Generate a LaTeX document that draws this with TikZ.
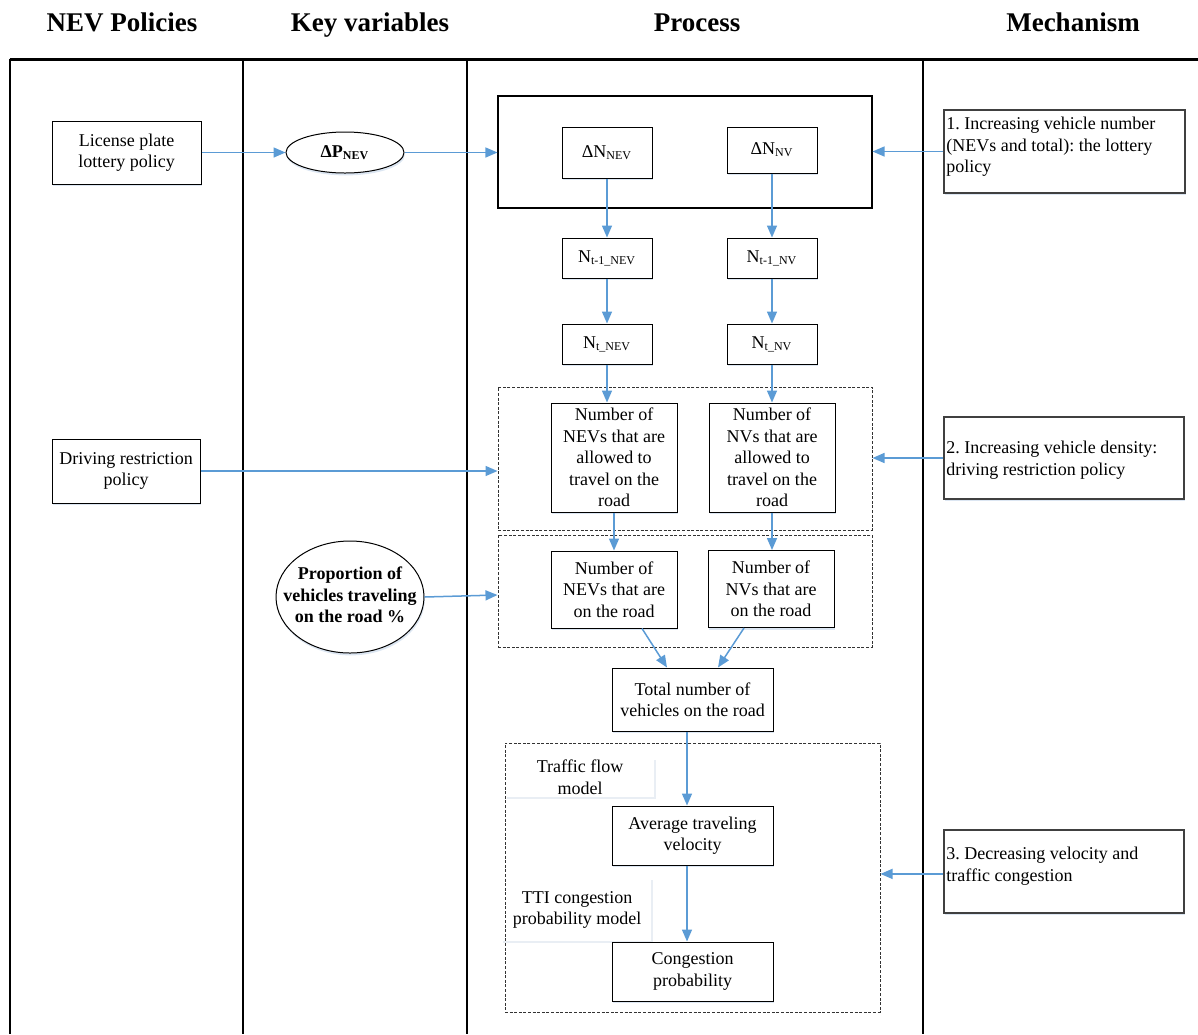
\documentclass[tikz,border=0pt]{standalone}
\usepackage{fontspec}
\setmainfont{Liberation Serif}
\usetikzlibrary{arrows.meta,shapes.geometric,shadows}
\newcommand\myfs{\fontsize{9}{10.75}\selectfont\frenchspacing}
\definecolor{arrowblue}{HTML}{5B9BD5}
\definecolor{shadowblue}{HTML}{DCE6F2}
\definecolor{faint}{HTML}{E9EEF4}
\tikzset{
  hdr/.style={font=\fontsize{13.5}{16}\selectfont\bfseries, inner sep=0pt, anchor=base},
  box/.style={draw=black, line width=0.5pt, fill=white, align=center, inner sep=1pt, font=\myfs,
    drop shadow={shadow xshift=0.4pt, shadow yshift=-1.2pt, fill=shadowblue, opacity=1}},
  oval/.style={ellipse, draw=black, line width=0.5pt, fill=white, align=center, inner sep=0pt, font=\myfs\bfseries,
    drop shadow={shadow xshift=0.4pt, shadow yshift=-1.2pt, fill=shadowblue, opacity=1}},
  frame/.style={draw=black, line width=0.55pt, inner sep=0pt},
  dframe/.style={draw=black!80, line width=0.5pt, dash pattern=on 1.5pt off 0.8pt, inner sep=0pt},
  mech/.style={draw=black!75, line width=0.6pt, fill=white, inner sep=0pt,
    drop shadow={shadow xshift=0.4pt, shadow yshift=-1.2pt, fill=shadowblue, opacity=1}},
  mtext/.style={font=\myfs, align=left, inner sep=0pt, anchor=north west},
  lbl/.style={font=\myfs, align=center, inner sep=0pt},
  arr/.style={draw=arrowblue, line width=0.75pt, -{Triangle[length=6pt,width=5pt]}},
}
\begin{document}
\begin{tikzpicture}[x=0.5pt,y=-0.5pt]
\useasboundingbox (0,0) rectangle (1198,1034);

% headers
\node[hdr] (h1) at (122,31) {NEV Policies};
\node[hdr] (h2) at (370,31) {Key variables};
\node[hdr] (h3) at (697,31) {Process};
\node[hdr] (h4) at (1073,31) {Mechanism};

% table lines
\draw[line width=1.5pt] (9.5,59) -- (1198,59);
\draw[line width=1pt] (10,59) -- (10,1034);
\foreach \x in {243,467,923} \draw[line width=0.75pt] (\x,59) -- (\x,1034);

% containers
\node[frame, minimum width=187pt, minimum height=56pt] (top) at (685,152) {};
\node[dframe, minimum width=187pt, minimum height=71.5pt] (dash1) at (685,458.5) {};
\node[dframe, minimum width=187pt, minimum height=56pt] (dash2) at (685,591) {};
\node[dframe, minimum width=187.5pt, minimum height=134.5pt] (dash3) at (692.5,877.5) {};

% faint label frames
\draw[faint, line width=1pt] (655,760) -- (655,798) -- (507,798);
\draw[faint, line width=1pt] (652,880) -- (652,942) -- (503,942);
\node[lbl] (tfm) at (580,777) {Traffic flow\\model};
\node[lbl] (tti) at (577,910) {TTI congestion\\probability model};

% left column
\node[box, minimum width=74.5pt, minimum height=31.5pt] (lic) at (126.5,152.5) {License plate\\lottery policy};
\node[box, minimum width=74pt, minimum height=32pt] (drv) at (126,471) {Driving restriction\\policy};

% key variables
\node[oval, minimum width=59pt, minimum height=20.5pt] (dP) at (345,152.5) {ΔP\textsubscript{NEV}};
\node[oval, minimum width=74pt, minimum height=56pt] (prop) at (350,597)
  {\makebox[0pt][c]{\begin{tabular}{@{}c@{}}Proportion of\\vehicles traveling\\on the road \%\end{tabular}}};

% process
\node[box, minimum width=45pt, minimum height=25.5pt] (dNnev) at (607,152.5) {ΔN\textsubscript{NEV}};
\node[box, minimum width=45pt, minimum height=23pt] (dNnv) at (772,150) {ΔN\textsubscript{NV}};
\node[box, minimum width=45pt, minimum height=20pt] (tm1nev) at (607,258) {N\textsubscript{t-1\_NEV}};
\node[box, minimum width=45pt, minimum height=20pt] (tm1nv) at (772,258) {N\textsubscript{t-1\_NV}};
\node[box, minimum width=45pt, minimum height=20pt] (tnev) at (607,344) {N\textsubscript{t\_NEV}};
\node[box, minimum width=45pt, minimum height=20pt] (tnv) at (772,344) {N\textsubscript{t\_NV}};
\node[box, minimum width=63pt, minimum height=54.5pt] (alnev) at (614,457.5) {Number of\\NEVs that are\\allowed to\\travel on the\\road};
\node[box, minimum width=63pt, minimum height=54.5pt] (alnv) at (772,457.5) {Number of\\NVs that are\\allowed to\\travel on the\\road};
\node[box, minimum width=63pt, minimum height=38.5pt] (rdnev) at (614,589.5) {Number of\\NEVs that are\\on the road};
\node[box, minimum width=63pt, minimum height=38.5pt] (rdnv) at (771,589) {Number of\\NVs that are\\on the road};
\node[box, minimum width=80.5pt, minimum height=31.5pt] (total) at (692.5,699.5) {Total number of\\vehicles on the road};
\node[box, minimum width=80.5pt, minimum height=29.5pt] (avg) at (692.5,835.5) {Average traveling\\velocity};
\node[box, minimum width=80.5pt, minimum height=29.5pt] (cong) at (692.5,971.5) {Congestion\\probability};

% mechanism
\node[mech, minimum width=120.5pt, minimum height=41.5pt] (m1) at (1064.5,151.5) {};
\node[mtext] (m1t) at (946,117) {1. Increasing vehicle number\\(NEVs and total): the lottery\\policy};
\node[mech, minimum width=120pt, minimum height=41pt] (m2) at (1064,458) {};
\node[mtext] (m2t) at (946,441) {2. Increasing vehicle density:\\driving restriction policy};
\node[mech, minimum width=120pt, minimum height=41.5pt] (m3) at (1064,871.5) {};
\node[mtext] (m3t) at (946,847) {3. Decreasing velocity and\\traffic congestion};

% connectors
\draw[arr] (lic.east) -- (dP.west);
\draw[arr] (dP.east) -- (dP.east -| top.west);
\draw[arr] (m1.west) -- (m1.west -| top.east);
\draw[arr] (drv.east) -- (drv.east -| dash1.west);
\draw[arr] (m2.west) -- (m2.west -| dash1.east);
\draw[arr] (prop.east) -- ([yshift=-2pt]dash2.west);
\draw[arr] ([yshift=-1.2pt]m3.west) -- ([yshift=-1.2pt]m3.west -| dash3.east);
\draw[arr] (dNnev.south) -- (tm1nev.north);
\draw[arr] (dNnv.south) -- (tm1nv.north);
\draw[arr] (tm1nev.south) -- (tnev.north);
\draw[arr] (tm1nv.south) -- (tnv.north);
\draw[arr] (tnev.south) -- (tnev.south |- alnev.north);
\draw[arr] (tnv.south) -- (alnv.north);
\draw[arr] (alnev.south) -- (rdnev.north);
\draw[arr] (alnv.south) -- (alnv.south |- rdnv.north);
\draw[arr] ([xshift=14pt]rdnev.south) -- ([xshift=-12.75pt]total.north);
\draw[arr] ([xshift=-13.5pt]rdnv.south) -- ([xshift=12.75pt]total.north);
\draw[arr] ([xshift=-2.75pt]total.south) -- ([xshift=-2.75pt]avg.north);
\draw[arr] ([xshift=-2.75pt]avg.south) -- ([xshift=-2.75pt]cong.north);
\end{tikzpicture}
\end{document}
